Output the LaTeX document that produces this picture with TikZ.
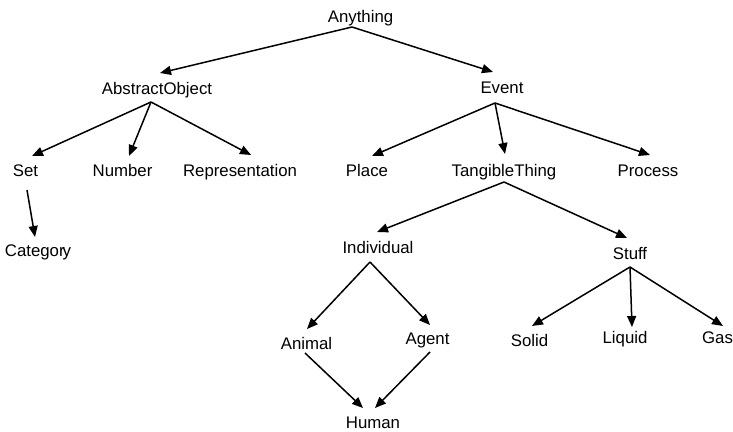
\documentclass[tikz,border=0pt]{standalone}
\usepackage{fontspec}
\setmainfont{Liberation Sans}
\usetikzlibrary{arrows.meta}
\begin{document}
\begin{tikzpicture}[x=1pt,y=-1pt,
  concept/.style={inner sep=0pt,anchor=base,text=black,font=\fontsize{16.8}{20}\selectfont},
  isa/.style={draw=black,line width=1.5pt,-{Triangle[length=11pt,width=9pt]}}]
\useasboundingbox (0,0) rectangle (733,431);

% concept nodes (placed by their text baseline)
\node[concept] (any)   at (360.5,23)  {Anything};
\node[concept] (abs)   at (157,94)    {AbstractObject};
\node[concept] (event) at (502,93)    {Event};
\node[concept] (set)   at (25.5,176)  {Set};
\node[concept] (num)   at (122.5,176) {Number};
\node[concept] (rep)   at (240,176)   {Representation};
\node[concept] (place) at (367,176)   {Place};
\node[concept] (tang)  at (504,176)   {TangibleThing};
\node[concept] (proc)  at (648,176)   {Process};
\node[concept] (cat)   at (38,256)    {Categor\kern-0.12em y};
\node[concept] (indiv) at (378,253)   {Individual};
\node[concept] (stuff) at (630,259)   {Stuff};
\node[concept] (anim)  at (306.5,349) {Animal};
\node[concept] (agent) at (427.5,344) {Agent};
\node[concept] (solid) at (529.5,346) {Solid};
\node[concept] (liq)   at (625,343)   {Liquid};
\node[concept] (gas)   at (717.5,343) {Gas};
\node[concept] (human) at (373,428)   {Human};

% is-a links
\draw[isa] ([shift={(-8.5,4)}]any.base)  -- ([shift={(3,-21)}]abs.base);
\draw[isa] ([shift={(-8.5,4)}]any.base)  -- ([shift={(-9,-21)}]event.base);

\draw[isa] ([shift={(-6,8)}]abs.base) -- ([shift={(6.5,-20)}]set.base);
\draw[isa] ([shift={(-6,8)}]abs.base) -- ([shift={(6.5,-20)}]num.base);
\draw[isa] ([shift={(-6,8)}]abs.base) -- ([shift={(11,-21)}]rep.base);

\draw[isa] ([shift={(-7,10)}]event.base) -- ([shift={(5,-20)}]place.base);
\draw[isa] ([shift={(-7,10)}]event.base) -- ([shift={(1,-22)}]tang.base);
\draw[isa] ([shift={(-7,10)}]event.base) -- ([shift={(2,-21)}]proc.base);

\draw[isa] ([shift={(1.5,14)}]set.base) -- ([shift={(-3,-19)}]cat.base);

\draw[isa] ([shift={(0,6)}]tang.base) -- ([shift={(-1,-21)}]indiv.base);
\draw[isa] ([shift={(0,6)}]tang.base) -- ([shift={(-3,-21)}]stuff.base);

\draw[isa] ([shift={(-8,9)}]indiv.base) -- ([shift={(0.5,-20)}]anim.base);
\draw[isa] ([shift={(-8,9)}]indiv.base) -- ([shift={(2.5,-19)}]agent.base);

\draw[isa] ([shift={(-1.5,4)}]anim.base) -- ([shift={(-10,-20)}]human.base);
\draw[isa] ([shift={(2.5,8)}]agent.base) -- ([shift={(2,-20)}]human.base);

\draw[isa] ([shift={(0,8)}]stuff.base) -- ([shift={(2.5,-20)}]solid.base);
\draw[isa] ([shift={(0,8)}]stuff.base) -- ([shift={(7,-16)}]liq.base);
\draw[isa] ([shift={(0,8)}]stuff.base) -- ([shift={(5.5,-17)}]gas.base);
\end{tikzpicture}
\end{document}
